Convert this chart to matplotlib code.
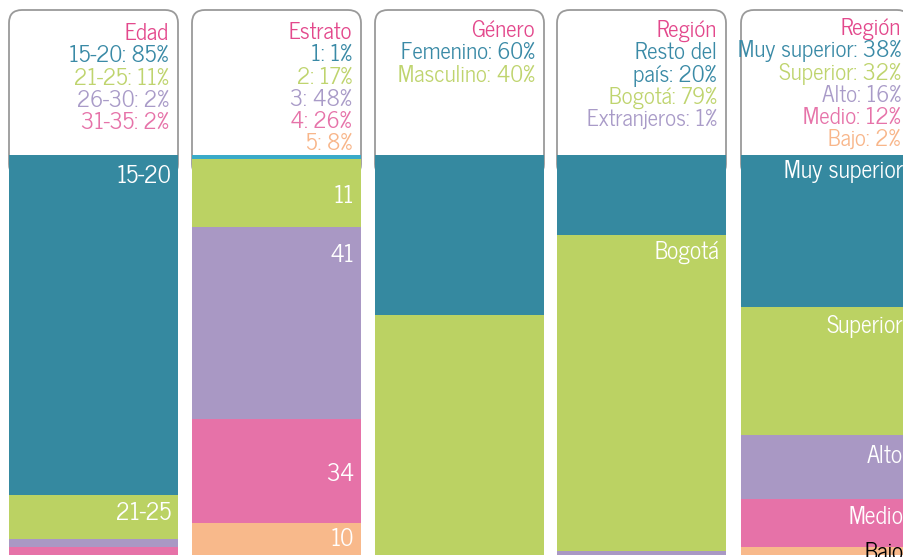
import matplotlib
matplotlib.use('Agg')
import matplotlib.pyplot as plt
from matplotlib.patches import FancyBboxPatch

FONT = ['News Cycle', 'DejaVu Sans']
plt.rcParams['font.family'] = FONT

# ---------------- data ----------------
titles = ['Edad', 'Estrato', 'Género', 'Región', 'Región']

edad_labels = ['15-20', '21-25', '26-30', '31-35']
edad_header = ['15-20: 85%', '21-25: 11%', '26-30: 2%', '31-35: 2%']
edad_values = [85, 11, 2, 2]
edad_bar_labels = ['15-20', '21-25', '', '']

estrato_labels = ['1', '2', '3', '4', '5']
estrato_header = ['1: 1%', '2: 17%', '3: 48%', '4: 26%', '5: 8%']
estrato_values = [1, 17, 48, 26, 8]
estrato_bar_labels = ['', '11', '41', '34', '10']

genero_labels = ['Femenino', 'Masculino']
genero_header = ['Femenino: 60%', 'Masculino: 40%']
genero_values = [40, 60]
genero_bar_labels = ['', '']

region_labels = ['Resto del país', 'Bogotá', 'Extranjeros']
region_header = ['Resto del\npaís: 20%', 'Bogotá: 79%', 'Extranjeros: 1%']
region_values = [20, 79, 1]
region_bar_labels = ['', 'Bogotá', '']

nivel_labels = ['Muy superior', 'Superior', 'Alto', 'Medio', 'Bajo']
nivel_header = ['Muy superior: 38%', 'Superior: 32%', 'Alto: 16%', 'Medio: 12%', 'Bajo: 2%']
nivel_values = [38, 32, 16, 12, 2]
nivel_bar_labels = ['Muy superior', 'Superior', 'Alto', 'Medio', 'Bajo']

# ---------------- style ----------------
W, H = 904, 557
bar_colors = ['#3589a0', '#bbd263', '#a998c4', '#e672a8', '#f8b98b']
text_colors = ['#3a8aa6', '#bfd46e', '#a99bc8', '#e673a9', '#f8b68a']
title_color = '#e3488c'
estrato_first_color = '#3aaac8'

col_left = [9, 192, 375, 557, 741]
col_width = 169
bar_top, bar_bottom = 155, 555
box_top, box_bottom = 10, 177
header_first = [34, 33, 31, 31, 29]
line_step = 22.2
label_offsets = [
    [5.4, 4.7, 0, 0],
    [0, 9.3, 7.1, 13.8, 4.1],
    [0, 0],
    [0, 4.4, 0],
    [4.1, 4.8, 5.4, 4.5, 1.5],
]
label_colors = [
    ['white'] * 4,
    ['white'] * 5,
    ['white'] * 2,
    ['white'] * 3,
    ['white', 'white', 'white', 'white', 'black'],
]

headers = [edad_header, estrato_header, genero_header, region_header, nivel_header]
values = [edad_values, estrato_values, genero_values, region_values, nivel_values]
bar_labels = [edad_bar_labels, estrato_bar_labels, genero_bar_labels, region_bar_labels, nivel_bar_labels]

fig = plt.figure(figsize=(W / 100, H / 100), dpi=100)
bg = fig.add_axes([0, 0, 1, 1])
bg.set_xlim(0, W)
bg.set_ylim(H, 0)
bg.axis('off')

for c in range(5):
    x0 = col_left[c]
    # header box
    box = FancyBboxPatch((x0, box_top), col_width, box_bottom - box_top,
                         boxstyle='round,pad=0,rounding_size=13',
                         facecolor='white', edgecolor='#9a9a9a', linewidth=1.3, zorder=1)
    bg.add_patch(box)
    # header text
    xr = x0 + 160
    y = header_first[c]
    bg.text(xr, y, titles[c], color=title_color, fontsize=16.5, ha='right', va='center', zorder=3)
    line_idx = 1
    for i, h in enumerate(headers[c]):
        for part in h.split('\n'):
            bg.text(xr, y + line_idx * line_step, part, color=text_colors[i], fontsize=16.5,
                    ha='right', va='center', zorder=3)
            line_idx += 1

    # stacked bar axes
    ax = fig.add_axes([x0 / W, 1 - bar_bottom / H, col_width / W, (bar_bottom - bar_top) / H])
    ax.set_xlim(0, 1)
    ax.set_ylim(100, 0)
    ax.axis('off')
    cum = 0
    for i, v in enumerate(values[c]):
        col = bar_colors[i]
        if c == 1 and i == 0:
            col = estrato_first_color
        ax.bar(0.5, v, bottom=cum, width=1.0, color=col, linewidth=0)
        lab = bar_labels[c][i]
        if lab:
            ax.text(0.96, cum + label_offsets[c][i], lab, color=label_colors[c][i],
                    fontsize=17, ha='right', va='center', clip_on=False)
        cum += v

fig.savefig('out.png', dpi=100)
